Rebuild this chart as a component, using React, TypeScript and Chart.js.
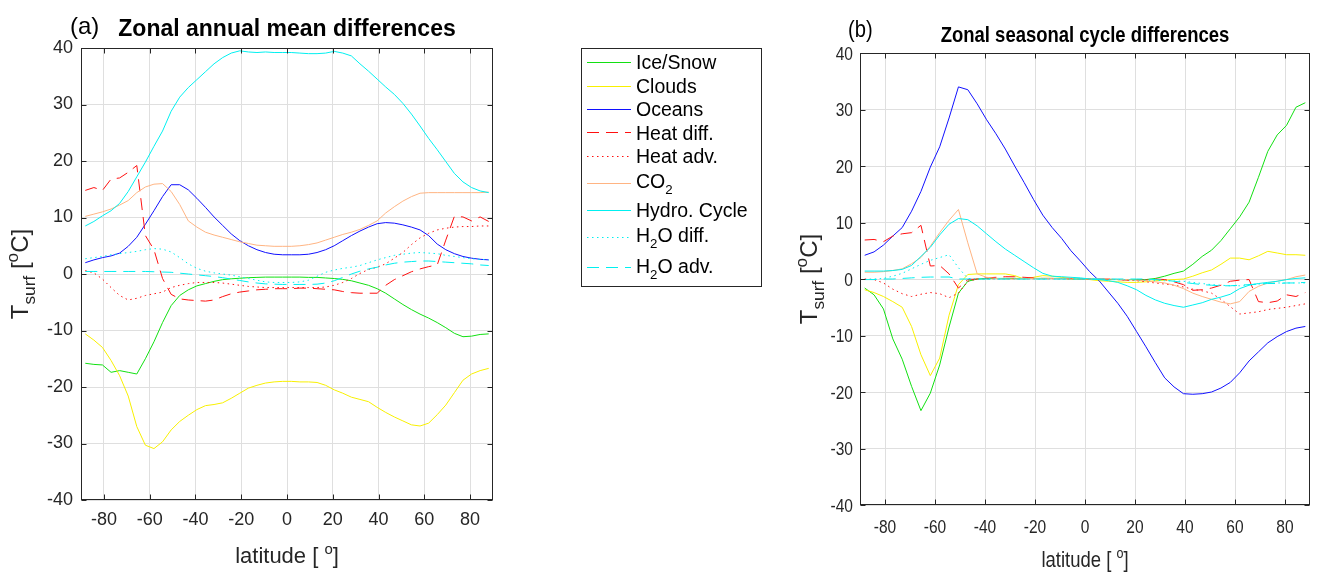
import React, { useEffect, useRef } from "react";
import { Chart, registerables } from "chart.js";

Chart.register(...registerables);

const FONT = '"Liberation Sans", Arial, Helvetica, sans-serif';
const AXIS_COLOR = "#262626";
const GRID_COLOR = "#dfdfdf";

// ---------------- data ----------------
const latitudes = [
  -88.125, -84.375, -80.625, -76.875, -73.125, -69.375, -65.625, -61.875, -58.125, -54.375,
  -50.625, -46.875, -43.125, -39.375, -35.625, -31.875, -28.125, -24.375, -20.625, -16.875,
  -13.125, -9.375, -5.625, -1.875, 1.875, 5.625, 9.375, 13.125, 16.875, 20.625,
  24.375, 28.125, 31.875, 35.625, 39.375, 43.125, 46.875, 50.625, 54.375, 58.125,
  61.875, 65.625, 69.375, 73.125, 76.875, 80.625, 84.375, 88.125,
];
const xTickValues = [-80, -60, -40, -20, 0, 20, 40, 60, 80];
const yTickValues = [-40, -30, -20, -10, 0, 10, 20, 30, 40];

const seriesLabels = [
  "Ice/Snow", "Clouds", "Oceans", "Heat diff.", "Heat adv.",
  "CO_2", "Hydro. Cycle", "H_2O diff.", "H_2O adv.",
];
const seriesColors = [
  "#12e012", "#f8f000", "#1010ff", "#ff1010", "#ff1010",
  "#ffb482", "#00f0f0", "#00f0f0", "#00f0f0",
];
const seriesDash = [[], [], [], [12, 7], [1.5, 3.5], [], [], [1.5, 3.5], [12, 7]];

// (a) zonal annual mean differences
const annualIceSnow = [
  -15.8, -16.0, -16.1, -17.4, -17.1, -17.4, -17.7, -15.0, -12.0, -8.6,
  -5.6, -3.8, -2.8, -2.1, -1.7, -1.3, -1.0, -0.85, -0.75, -0.65,
  -0.6, -0.55, -0.55, -0.55, -0.55, -0.55, -0.6, -0.6, -0.7, -0.8,
  -0.95, -1.2, -1.6, -2.0, -2.6, -3.4, -4.4, -5.4, -6.3, -7.1,
  -7.8, -8.6, -9.5, -10.5, -11.1, -11.0, -10.7, -10.6,
];
const annualClouds = [
  -10.6, -11.7, -13.0, -15.3, -18.0, -21.6, -27.0, -30.3, -30.9, -29.7,
  -27.6, -26.1, -25.0, -24.0, -23.3, -23.1, -22.8, -22.0, -21.1, -20.2,
  -19.7, -19.3, -19.1, -19.0, -19.0, -19.1, -19.1, -19.2, -19.7, -20.5,
  -21.1, -21.8, -22.2, -22.6, -23.6, -24.5, -25.3, -26.0, -26.7, -26.9,
  -26.4, -24.9, -23.2, -21.0, -18.8, -17.7, -17.1, -16.7,
];
const annualOceans = [
  2.0, 2.5, 2.9, 3.2, 3.7, 4.9, 6.5, 8.8, 11.2, 13.7,
  15.8, 15.8, 14.9, 13.4, 11.8, 10.1, 8.6, 7.1, 5.9, 5.0,
  4.3, 3.8, 3.5, 3.4, 3.4, 3.4, 3.5, 3.8, 4.3, 5.0,
  5.9, 6.8, 7.6, 8.3, 8.9, 9.1, 9.0, 8.7, 8.3, 7.8,
  6.8, 5.3, 4.3, 3.6, 3.1, 2.8, 2.6, 2.5,
];
const annualHeatDiff = [
  14.8, 15.3, 14.8, 16.8, 17.0, 18.0, 19.2, 6.8, 4.3, -0.8,
  -3.6, -4.4, -4.6, -4.7, -4.8, -4.6, -4.0, -3.5, -3.2, -3.0,
  -2.8, -2.7, -2.6, -2.6, -2.6, -2.5, -2.5, -2.6, -2.7, -2.8,
  -3.1, -3.3, -3.4, -3.4, -3.4, -2.0, -1.0, -0.3, 0.4, 0.9,
  1.3, 1.6, 6.0, 10.2, 10.1, 9.4, 10.1, 9.3,
];
const annualHeatAdv = [
  0.6, 0.2, -0.9, -2.4, -3.8, -4.6, -4.3, -3.8, -3.5, -3.2,
  -2.4, -2.0, -1.7, -1.5, -1.5, -1.5, -1.6, -1.8, -2.0, -2.2,
  -2.3, -2.4, -2.4, -2.4, -2.4, -2.4, -2.4, -2.4, -2.3, -2.0,
  -1.5, -0.8, 0.1, 0.8, 1.2, 1.8, 2.8, 3.8, 5.2, 6.4,
  7.2, 7.8, 8.1, 8.3, 8.4, 8.4, 8.5, 8.5,
];
const annualCO2 = [
  10.2, 10.6, 11.0, 11.5, 12.2, 13.0, 14.4, 15.4, 15.9, 16.0,
  14.6, 12.3, 9.4, 8.3, 7.4, 6.9, 6.5, 6.1, 5.7, 5.4,
  5.1, 5.0, 4.9, 4.9, 4.9, 5.0, 5.2, 5.5, 6.0, 6.5,
  7.0, 7.4, 7.9, 8.6, 9.4, 10.8, 11.9, 12.9, 13.7, 14.3,
  14.4, 14.4, 14.4, 14.4, 14.4, 14.4, 14.4, 14.5,
];
const annualHydro = [
  8.5, 9.3, 10.3, 11.2, 12.5, 14.6, 17.2, 19.8, 22.6, 25.3,
  28.8, 31.3, 33.0, 34.4, 35.8, 37.2, 38.3, 39.1, 39.5, 39.3,
  39.2, 39.3, 39.2, 39.2, 39.2, 39.1, 39.0, 39.0, 39.1, 39.4,
  39.1, 38.6, 37.2, 35.9, 34.5, 33.1, 31.8, 30.2, 28.3, 26.2,
  24.0, 22.0, 19.9, 17.8, 16.3, 15.3, 14.7, 14.4,
];
const annualH2ODiff = [
  2.7, 2.9, 3.1, 3.4, 3.6, 3.8, 4.0, 4.3, 4.5, 4.4,
  3.9, 2.9, 1.8, 1.0, 0.5, 0.2, 0.0, -0.2, -0.5, -0.8,
  -1.1, -1.4, -1.5, -1.5, -1.5, -1.4, -1.1, -0.4, 0.3, 0.7,
  1.0, 1.2, 1.5, 2.0, 2.5, 2.9, 3.3, 3.5, 3.7, 3.8,
  3.7, 3.6, 3.3, 3.1, 2.9, 2.7, 2.6, 2.5,
];
const annualH2OAdv = [
  0.45, 0.45, 0.45, 0.45, 0.45, 0.45, 0.45, 0.45, 0.4, 0.35,
  0.3, 0.15, 0.0, -0.15, -0.3, -0.45, -0.65, -0.9, -1.15, -1.4,
  -1.6, -1.75, -1.8, -1.85, -1.85, -1.85, -1.85, -1.8, -1.6, -1.2,
  -0.6, 0.0, 0.5, 0.9, 1.2, 1.6, 1.9, 2.1, 2.2, 2.3,
  2.3, 2.2, 2.1, 2.0, 1.9, 1.8, 1.6, 1.5,
];

// (b) zonal seasonal cycle differences
const seasonalIceSnow = [
  -1.6, -2.8, -5.3, -10.6, -14.2, -19.0, -23.3, -20.2, -15.2, -8.5,
  -2.5, -0.4, 0.0, 0.1, 0.1, 0.1, 0.1, 0.1, 0.1, 0.1,
  0.1, 0.1, 0.0, 0.0, 0.0, -0.1, -0.1, -0.1, -0.1, -0.1,
  -0.1, 0.1, 0.5, 1.0, 1.4, 2.6, 4.0, 5.1, 6.8, 8.9,
  11.0, 13.6, 18.0, 22.6, 25.5, 27.2, 30.4, 31.2,
];
const seasonalClouds = [
  -1.9, -2.4, -3.1, -4.0, -5.0, -8.4, -13.4, -17.1, -14.0, -6.4,
  -1.0, 0.8, 0.9, 0.9, 0.9, 0.9, 0.6, 0.0, 0.3, 0.6,
  0.5, 0.3, 0.1, 0.0, -0.1, -0.3, -0.4, -0.5, -0.6, -0.6,
  -0.5, -0.3, -0.2, -0.1, 0.0, 0.5, 1.1, 1.6, 2.6, 3.7,
  3.7, 3.4, 4.1, 4.9, 4.6, 4.3, 4.3, 4.2,
];
const seasonalOceans = [
  4.2, 4.8, 6.0, 7.6, 9.1, 12.0, 15.5, 19.8, 23.4, 28.5,
  34.0, 33.5, 31.0, 28.2, 25.7, 23.0, 20.0, 17.1, 14.1, 11.3,
  9.1, 7.2, 5.0, 3.2, 1.3, -0.3, -2.3, -4.3, -6.6, -9.3,
  -12.0, -14.8, -17.5, -19.1, -20.3, -20.4, -20.3, -20.0, -19.3, -18.3,
  -16.6, -14.5, -12.9, -11.3, -10.2, -9.3, -8.7, -8.4,
];
const seasonalHeatDiff = [
  6.9, 7.0, 6.6, 7.6, 8.0, 8.2, 9.5, 2.3, 2.4, 0.9,
  -1.6, -0.1, 0.0, 0.2, 0.3, 0.4, 0.4, 0.3, 0.2, 0.1,
  0.1, 0.1, 0.1, 0.0, 0.0, 0.0, 0.0, -0.1, -0.2, -0.2,
  -0.2, 0.0, -0.1, -0.5, -1.0, -2.0, -1.9, -1.6, -1.1, -0.4,
  -0.2, -0.1, -4.0, -4.2, -3.9, -2.8, -3.1, -2.4,
];
const seasonalHeatAdv = [
  0.0, -0.1, -0.7, -1.8, -2.6, -3.1, -2.7, -2.4, -2.6, -3.3,
  -2.5, -0.4, 0.0, 0.05, 0.05, 0.05, 0.05, 0.05, 0.05, 0.05,
  0.05, 0.05, 0.0, 0.0, 0.0, -0.05, -0.1, -0.1, -0.2, -0.3,
  -0.5, -0.7, -0.9, -1.1, -1.4, -1.8, -2.1, -2.5, -3.6, -4.9,
  -6.2, -6.0, -5.8, -5.4, -5.2, -5.0, -4.7, -4.4,
];
const seasonalCO2 = [
  1.2, 1.2, 1.3, 1.5, 1.8, 2.7, 3.8, 5.8, 8.2, 10.4,
  12.3, 6.4, 0.9, 0.3, 0.1, 0.0, 0.0, 0.1, 0.1, 0.1,
  0.1, 0.1, 0.0, 0.0, 0.0, 0.0, 0.0, -0.1, -0.1, -0.2,
  -0.3, -0.5, -0.7, -1.1, -1.7, -2.5, -3.1, -3.6, -4.1, -4.4,
  -4.0, -2.2, -1.3, -0.7, -0.4, -0.1, 0.4, 0.7,
];
const seasonalHydro = [
  1.4, 1.4, 1.4, 1.5, 1.7, 2.4, 4.0, 5.6, 7.8, 9.7,
  10.7, 10.5, 9.4, 8.0, 6.6, 5.3, 4.2, 3.1, 2.0, 1.0,
  0.5, 0.4, 0.3, 0.2, 0.0, -0.1, -0.3, -0.6, -1.2, -1.9,
  -2.9, -3.7, -4.3, -4.7, -5.0, -4.6, -4.2, -3.6, -3.2, -2.7,
  -1.7, -1.1, -0.8, -0.6, -0.4, -0.1, 0.1, 0.2,
];
const seasonalH2ODiff = [
  -0.1, 0.0, 0.1, 0.5, 1.0, 1.8, 2.6, 3.3, 3.8, 4.3,
  2.0, 0.1, 0.0, 0.0, 0.0, 0.0, 0.0, 0.0, 0.0, 0.0,
  0.0, 0.0, 0.0, 0.0, 0.0, -0.05, -0.1, -0.1, -0.15, -0.2,
  -0.2, -0.25, -0.3, -0.35, -0.4, -0.6, -0.8, -1.0, -1.1, -1.2,
  -1.2, -1.0, -0.9, -0.8, -0.7, -0.7, -0.7, -0.7,
];
const seasonalH2OAdv = [
  -0.1, -0.1, 0.0, 0.0, 0.1, 0.2, 0.3, 0.35, 0.35, 0.35,
  0.0, 0.0, 0.0, 0.0, 0.0, 0.0, 0.0, 0.0, 0.0, 0.0,
  0.0, 0.0, 0.0, 0.0, 0.0, 0.0, 0.0, 0.0, 0.0, 0.0,
  0.0, -0.1, -0.2, -0.4, -0.6, -0.8, -1.0, -1.1, -1.2, -1.2,
  -1.1, -1.0, -0.9, -0.8, -0.8, -0.7, -0.7, -0.6,
];

const annualSeries = [
  annualIceSnow, annualClouds, annualOceans, annualHeatDiff, annualHeatAdv,
  annualCO2, annualHydro, annualH2ODiff, annualH2OAdv,
];
const seasonalSeries = [
  seasonalIceSnow, seasonalClouds, seasonalOceans, seasonalHeatDiff, seasonalHeatAdv,
  seasonalCO2, seasonalHydro, seasonalH2ODiff, seasonalH2OAdv,
];

// ---------------- text helpers ----------------
type Part = { t: string; k: "n" | "sub" | "sup" };
function parseTex(s: string): Part[] {
  const out: Part[] = [];
  let buf = "";
  let i = 0;
  while (i < s.length) {
    const c = s[i];
    if ((c === "_" || c === "^") && i + 1 < s.length) {
      if (buf) { out.push({ t: buf, k: "n" }); buf = ""; }
      let arg = "";
      if (s[i + 1] === "{") {
        const j = s.indexOf("}", i + 2);
        arg = s.slice(i + 2, j);
        i = j + 1;
      } else {
        arg = s[i + 1];
        i += 2;
      }
      out.push({ t: arg, k: c === "_" ? "sub" : "sup" });
    } else {
      buf += c;
      i++;
    }
  }
  if (buf) out.push({ t: buf, k: "n" });
  return out;
}

type TexOpts = {
  size: number;
  weight?: string;
  align?: "left" | "center" | "right";
  color?: string;
  sx?: number;
  ratio?: number;
};
function drawTex(ctx: CanvasRenderingContext2D, s: string, x: number, y: number, o: TexOpts) {
  const parts = parseTex(s);
  const sx = o.sx || 1;
  const small = o.size * (o.ratio || 0.68);
  const fontFor = (k: string) => `${o.weight || "normal"} ${k === "n" ? o.size : small}px ${FONT}`;
  let w = 0;
  const ws = parts.map((p) => {
    ctx.font = fontFor(p.k);
    const m = ctx.measureText(p.t).width;
    w += m;
    return m;
  });
  const x0 = o.align === "center" ? x - (w * sx) / 2 : o.align === "right" ? x - w * sx : x;
  ctx.save();
  ctx.translate(x0, y);
  ctx.scale(sx, 1);
  ctx.fillStyle = o.color || "#000";
  ctx.textAlign = "left";
  ctx.textBaseline = "alphabetic";
  let cx = 0;
  parts.forEach((p, i) => {
    ctx.font = fontFor(p.k);
    const dy = p.k === "sub" ? o.size * 0.3 : p.k === "sup" ? -o.size * 0.42 : 0;
    ctx.fillText(p.t, cx, dy);
    cx += ws[i];
  });
  ctx.restore();
}

// ---------------- panel setup ----------------
type PanelSpec = {
  width: number;
  area: { left: number; top: number; right: number; bottom: number };
  sx: number;
  libraryTicks: boolean;
  tickSize: number;
  tag: string;
  tagX: number;
  tagY: number;
  title: string;
  titleSize: number;
  titleY: number;
  xTitleY: number;
  yTitleX: number;
  series: number[][];
  legend: boolean;
};

const panelA: PanelSpec = {
  width: 775,
  area: { left: 81, top: 48, right: 493, bottom: 500 },
  sx: 1,
  libraryTicks: true,
  tickSize: 18,
  tag: "(a)",
  tagX: 70,
  tagY: 34,
  title: "Zonal annual mean differences",
  titleSize: 23,
  titleY: 36,
  xTitleY: 563,
  yTitleX: 28,
  series: annualSeries,
  legend: true,
};

const panelB: PanelSpec = {
  width: 548,
  area: { left: 80, top: 53, right: 530, bottom: 505 },
  sx: 0.84,
  libraryTicks: false,
  tickSize: 18.5,
  tag: "(b)",
  tagX: 68,
  tagY: 37,
  title: "Zonal seasonal cycle differences",
  titleSize: 22,
  titleY: 41.5,
  xTitleY: 567,
  yTitleX: 37,
  series: seasonalSeries,
  legend: false,
};

function decorPlugin(p: PanelSpec) {
  return {
    id: "decor" + p.tag,
    afterDraw(chart: any) {
      const ctx: CanvasRenderingContext2D = chart.ctx;
      const a = chart.chartArea;
      const xs = chart.scales.x;
      const ys = chart.scales.y;
      ctx.save();
      // box
      ctx.strokeStyle = AXIS_COLOR;
      ctx.lineWidth = 1;
      const L = Math.round(a.left) + 0.5;
      const R = Math.round(a.right) - 0.5;
      const T = Math.round(a.top) + 0.5;
      const B = Math.round(a.bottom) - 0.5;
      ctx.strokeRect(L, T, R - L, B - T);
      // inward ticks
      ctx.beginPath();
      xTickValues.forEach((v) => {
        const px = Math.round(xs.getPixelForValue(v)) + 0.5;
        ctx.moveTo(px, B); ctx.lineTo(px, B - 5);
        ctx.moveTo(px, T); ctx.lineTo(px, T + 5);
      });
      yTickValues.forEach((v) => {
        const py = Math.round(ys.getPixelForValue(v)) + 0.5;
        ctx.moveTo(L, py); ctx.lineTo(L + 5, py);
        ctx.moveTo(R, py); ctx.lineTo(R - 5, py);
      });
      ctx.stroke();

      // tick labels drawn here for the condensed panel
      if (!p.libraryTicks) {
        xTickValues.forEach((v) => {
          drawTex(ctx, String(v), xs.getPixelForValue(v), a.bottom + 28, {
            size: p.tickSize, align: "center", color: AXIS_COLOR, sx: p.sx,
          });
        });
        yTickValues.forEach((v) => {
          drawTex(ctx, String(v), a.left - 7, ys.getPixelForValue(v) + 6.6, {
            size: p.tickSize, align: "right", color: AXIS_COLOR, sx: p.sx,
          });
        });
      }

      // tag + title
      drawTex(ctx, p.tag, p.tagX, p.tagY, { size: 24, color: "#000", sx: p.sx });
      const cxArea = (a.left + a.right) / 2;
      drawTex(ctx, p.title, cxArea, p.titleY, {
        size: p.titleSize, weight: "bold", align: "center", color: "#000", sx: p.sx,
      });
      // axis titles
      drawTex(ctx, "latitude [ ^o]", cxArea, p.xTitleY, {
        size: 22, align: "center", color: AXIS_COLOR, sx: p.sx,
      });
      ctx.save();
      ctx.translate(p.yTitleX, (a.top + a.bottom) / 2);
      ctx.rotate(-Math.PI / 2);
      drawTex(ctx, "T_{surf} [^oC]", 0, 0, { size: 24, align: "center", color: AXIS_COLOR, ratio: 0.72 });
      ctx.restore();

      if (p.legend) {
        const bx = 581.5, by = 48.5, bw = 180, bh = 238;
        ctx.fillStyle = "#fff";
        ctx.fillRect(bx, by, bw, bh);
        ctx.strokeStyle = AXIS_COLOR;
        ctx.lineWidth = 1;
        ctx.strokeRect(bx, by, bw, bh);
        let rowTop = by + 2;
        seriesLabels.forEach((label, i) => {
          const hasSub = parseTex(label).some((q) => q.k === "sub");
          const h = hasSub ? 30.6 : 23.4;
          const cy = rowTop + h / 2;
          ctx.beginPath();
          ctx.strokeStyle = seriesColors[i];
          ctx.setLineDash(seriesDash[i]);
          ctx.moveTo(587, Math.round(cy) + 0.5);
          ctx.lineTo(631, Math.round(cy) + 0.5);
          ctx.stroke();
          ctx.setLineDash([]);
          drawTex(ctx, label, 636, cy + (hasSub ? 5.5 : 7.2), { size: 19.5, color: "#000" });
          rowTop += h;
        });
      }
      ctx.restore();
    },
  };
}

function makeConfig(p: PanelSpec): any {
  const n = p.series.length;
  const datasets = p.series.map((vals, i) => ({
    label: seriesLabels[i],
    data: latitudes.map((lat, j) => ({ x: lat, y: vals[j] })),
    borderColor: seriesColors[i],
    backgroundColor: seriesColors[i],
    borderWidth: 1,
    borderDash: seriesDash[i],
    pointRadius: 0,
    fill: false,
    tension: 0,
    order: n - i,
  }));
  const tickFont = { family: FONT, size: p.tickSize };
  return {
    type: "line",
    data: { datasets },
    options: {
      responsive: false,
      maintainAspectRatio: false,
      devicePixelRatio: 1,
      animation: false,
      events: [],
      layout: { padding: { left: 0, top: p.area.top, right: p.width - p.area.right, bottom: 0 } },
      plugins: { legend: { display: false }, title: { display: false }, tooltip: { enabled: false } },
      scales: {
        x: {
          type: "linear",
          min: -90,
          max: 90,
          afterBuildTicks: (s: any) => { s.ticks = xTickValues.map((v) => ({ value: v })); },
          afterFit: (s: any) => { s.height = 576 - p.area.bottom; },
          grid: { color: GRID_COLOR, lineWidth: 1, drawTicks: false },
          border: { display: false },
          ticks: { display: p.libraryTicks, font: tickFont, color: AXIS_COLOR, padding: 9, maxRotation: 0, autoSkip: false },
        },
        y: {
          type: "linear",
          min: -40,
          max: 40,
          afterBuildTicks: (s: any) => { s.ticks = yTickValues.map((v) => ({ value: v })); },
          afterFit: (s: any) => { s.width = p.area.left; },
          grid: { color: GRID_COLOR, lineWidth: 1, drawTicks: false },
          border: { display: false },
          ticks: { display: p.libraryTicks, font: tickFont, color: AXIS_COLOR, padding: 8, autoSkip: false },
        },
      },
    },
    plugins: [decorPlugin(p)],
  };
}

function Panel({ spec, left }: { spec: PanelSpec; left: number }) {
  const ref = useRef<HTMLCanvasElement>(null);
  useEffect(() => {
    const chart = new Chart(ref.current as HTMLCanvasElement, makeConfig(spec));
    return () => chart.destroy();
  }, []);
  return (
    <canvas
      ref={ref}
      width={spec.width}
      height={576}
      style={{ position: "absolute", left, top: 0, width: spec.width, height: 576, display: "block" }}
    />
  );
}

export default function App() {
  return (
    <div style={{ position: "absolute", left: 0, top: 0, width: 1328, height: 576, background: "#fff", overflow: "hidden" }}>
      <Panel spec={panelA} left={0} />
      <Panel spec={panelB} left={780} />
    </div>
  );
}
